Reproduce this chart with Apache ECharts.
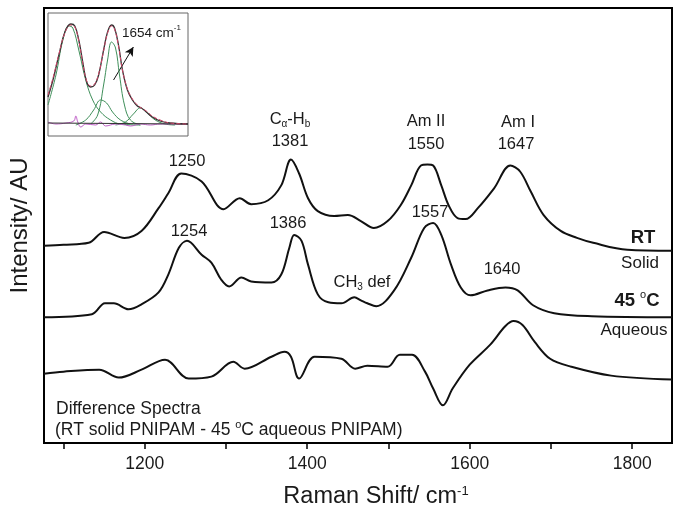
<!DOCTYPE html>
<html>
<head>
<meta charset="utf-8">
<script src="https://cdn.jsdelivr.net/npm/echarts@6/dist/echarts.min.js"></script>
<style>html,body{margin:0;padding:0;background:#fff}#c{width:679px;height:514px}</style>
</head>
<body>
<div id="c"></div>
<script>
// ---- main spectra (Raman shift cm-1, intensity in arbitrary units) ----
var rtShift = [1076,1100,1131,1150,1175,1196,1217,1229,1245,1270,1297,1317,1331,1352,1368,1380,1390,1401,1413,1433,1450,1466,1482,1499,1515,1528,1540,1548,1555,1565,1574,1585,1595,1610,1630,1650,1662,1675,1691,1712,1732,1752,1794,1849];
var rtInt   = [199,200,202,213,207,214,237,252,272,264,236,247,241,245,260,286,272,247,234,229,230,224,217,224,240,260,280,281,280,260,240,227,226,237,257,280,274,254,230,214,207,202,195,194];

var aqShift = [1076,1135,1151,1162,1180,1196,1217,1229,1242,1252,1270,1282,1294,1304,1319,1331,1356,1368,1378,1384,1393,1401,1413,1426,1442,1458,1466,1474,1485,1507,1528,1544,1555,1565,1577,1589,1601,1622,1644,1659,1678,1704,1750,1849];
var aqInt   = [127,130,141,141,135,140,152,170,197,204,190,182,165,158,167,163,162,170,197,210,204,180,150,142,141,147,144,141,138,154,187,217,222,210,180,157,149,154,157,154,139,131,128,127];

var dfShift = [1076,1100,1144,1168,1196,1225,1254,1282,1309,1323,1356,1372,1380,1390,1409,1442,1459,1474,1499,1514,1529,1545,1555,1567,1579,1600,1625,1644,1654,1665,1680,1699,1725,1774,1849];
var dfInt   = [70,72,74,66,74,84,65,67,82,75,87,92,87,65,87,85,75,78,77,89,89,72,55,38,55,79,99,118,123,119,102,85,77,68,64];

// ---- x axis ticks ----
var tickValues  = [1100,1200,1300,1400,1500,1600,1700,1800];
var labelValues = [1200,1400,1600,1800];

// ---- inset (band fit of Amide region), arbitrary units ----
var insetData   = [[0,39],[5,56],[11,81],[17,104],[23,112],[27,110],[31,96],[35,74],[39,54],[43,49],[47,51],[51,61],[56,86],[60,104],[64,111],[67,108],[71,91],[75,66],[80,46],[85,36],[90,30],[94,28],[99,24],[105,19],[113,15],[123,13],[141,12]];
var insetFit    = [[0,41],[5,58],[11,82],[17,103],[23,111],[27,109],[31,95],[35,73],[39,55],[43,50],[47,52],[51,62],[56,85],[60,103],[64,110],[67,107],[71,90],[75,66],[80,47],[85,37],[90,31],[94,28],[99,25],[105,20],[113,16],[123,13],[141,12]];
var insetBandA  = [[0,31],[8,61],[15,96],[21,110],[25,108],[31,86],[38,56],[45,36],[53,24],[63,16],[73,12],[93,11]];
var insetBandB  = [[43,12],[50,21],[56,51],[60,76],[64,94],[68,88],[72,61],[77,31],[83,16],[93,11]];
var insetBandC  = [[28,11],[38,16],[46,26],[53,36],[59,33],[65,24],[73,16],[83,12]];
var insetBandD  = [[68,11],[78,14],[86,22],[93,28],[99,24],[108,16],[118,12],[128,11]];
var insetResid  = [[0,14],[8,12],[18,13],[26,15],[28,20],[30,14],[33,9],[38,12],[48,11],[53,14],[58,10],[68,12],[78,11],[83,10],[93,12],[103,11],[113,12],[141,12]];
var insetBase   = [[0,13],[141,12]];

function zip(a,b){return a.map(function(v,i){return [v,b[i]];});}

var FONT = '"Liberation Sans", Arial, sans-serif';
var chart = echarts.init(document.getElementById('c'));

function txt(t, x, y, size, opts){
  opts = opts || {};
  return {
    type:'text', x:x, y:y, z:100,
    style:{
      text:t, fill:'#1a1a1a', fontFamily:FONT, fontSize:size,
      fontWeight: opts.bold ? 'bold' : 'normal',
      align: opts.align || 'center', verticalAlign:'middle',
      rich: opts.rich
    }
  };
}
function richSet(size){
  return {
    n:{fontSize:size, lineHeight:size+4, fontFamily:FONT, fill:'#1a1a1a'},
    b:{fontSize:size, lineHeight:size+4, fontFamily:FONT, fontWeight:'bold', fill:'#1a1a1a'},
    sub:{fontSize:Math.round(size*0.62), lineHeight:Math.round(size*0.62), verticalAlign:'bottom', fontFamily:FONT, fill:'#1a1a1a'},
    sup:{fontSize:Math.round(size*0.62), lineHeight:Math.round(size*0.62), verticalAlign:'top', fontFamily:FONT, fill:'#1a1a1a'}
  };
}

var lineStyle = {color:'#111', width:2};
var A = 16.5;

var option = {
  animation:false,
  backgroundColor:'#fff',
  grid:[
    {left:42, top:8, width:630, height:439, show:true, borderColor:'#000', borderWidth:2, backgroundColor:'transparent'},
    {left:48, top:13, width:140, height:123, show:true, borderColor:'#666', borderWidth:1, backgroundColor:'#fff', z:5}
  ],
  xAxis:[
    {type:'value', gridIndex:0, min:1076, max:1849,
     name:'Raman Shift/ cm{sup|-1}', nameLocation:'middle', nameGap:42,
     nameTextStyle:{fontFamily:FONT, fontSize:23.5, color:'#1a1a1a', padding:[0,0,0,36],
       rich:{sup:{fontSize:13, verticalAlign:'top', lineHeight:13, fontFamily:FONT, color:'#1a1a1a'}}},
     axisLine:{show:true, lineStyle:{color:'#000', width:2}},
     axisTick:{show:true, customValues:tickValues, length:6, inside:false, lineStyle:{color:'#000', width:1.5}},
     axisLabel:{show:true, customValues:labelValues, formatter:function(v){return String(v);}, fontFamily:FONT, fontSize:17.5, color:'#1a1a1a', margin:12},
     splitLine:{show:false}},
    {type:'value', gridIndex:1, min:0, max:141, show:false}
  ],
  yAxis:[
    {type:'value', gridIndex:0, min:0, max:439,
     name:'Intensity/ AU', nameLocation:'middle', nameGap:12, nameRotate:90,
     nameTextStyle:{fontFamily:FONT, fontSize:24, color:'#1a1a1a'},
     axisLine:{show:false}, axisTick:{show:false}, axisLabel:{show:false}, splitLine:{show:false}},
    {type:'value', gridIndex:1, min:0, max:123, show:false}
  ],
  series:[
    {name:'RT Solid', type:'line', xAxisIndex:0, yAxisIndex:0, data:zip(rtShift,rtInt), showSymbol:false, smooth:0.35, lineStyle:lineStyle, z:3},
    {name:'45 °C Aqueous', type:'line', xAxisIndex:0, yAxisIndex:0, data:zip(aqShift,aqInt), showSymbol:false, smooth:0.35, lineStyle:lineStyle, z:3},
    {name:'Difference', type:'line', xAxisIndex:0, yAxisIndex:0, data:zip(dfShift,dfInt), showSymbol:false, smooth:0.35, lineStyle:lineStyle, z:3},

    {name:'Band A', type:'line', xAxisIndex:1, yAxisIndex:1, data:insetBandA, showSymbol:false, smooth:0.4, lineStyle:{color:'#3f8f5a', width:1}, z:6},
    {name:'Band B', type:'line', xAxisIndex:1, yAxisIndex:1, data:insetBandB, showSymbol:false, smooth:0.4, lineStyle:{color:'#3f8f5a', width:1}, z:6},
    {name:'Band C', type:'line', xAxisIndex:1, yAxisIndex:1, data:insetBandC, showSymbol:false, smooth:0.4, lineStyle:{color:'#3f8f5a', width:1}, z:6},
    {name:'Band D', type:'line', xAxisIndex:1, yAxisIndex:1, data:insetBandD, showSymbol:false, smooth:0.4, lineStyle:{color:'#3f8f5a', width:1}, z:6},
    {name:'Residual', type:'line', xAxisIndex:1, yAxisIndex:1, data:insetResid, showSymbol:false, smooth:0.4, lineStyle:{color:'#c060c8', width:1}, z:6},
    {name:'Baseline', type:'line', xAxisIndex:1, yAxisIndex:1, data:insetBase, showSymbol:false, lineStyle:{color:'#333', width:1.2}, z:6},
    {name:'Inset data', type:'line', xAxisIndex:1, yAxisIndex:1, data:insetData, showSymbol:false, smooth:0.4, lineStyle:{color:'#333', width:1.3}, z:7,
     markLine:{silent:true, symbol:['none','arrow'], symbolSize:[7,9], label:{show:false},
       lineStyle:{color:'#111', width:1, type:'solid'},
       data:[[{coord:[66,56]},{coord:[86,89]}]]}},
    {name:'Inset fit', type:'line', xAxisIndex:1, yAxisIndex:1, data:insetFit, showSymbol:false, smooth:0.4, lineStyle:{color:'#d2486a', width:1, type:'dashed'}, z:8}
  ],
  graphic:[
    txt('{n|C}{sub|α}{n|-H}{sub|b}', 290, 119, A, {rich:richSet(A)}),
    txt('1381', 290, 141, A),
    txt('1250', 187, 161, A),
    txt('Am II', 426, 121, A),
    txt('1550', 426, 144, A),
    txt('Am I', 518, 122, A),
    txt('1647', 516, 144, A),
    txt('1254', 189, 231, A),
    txt('1386', 288, 223, A),
    txt('{n|CH}{sub|3}{n| def}', 362, 282, A, {rich:richSet(A)}),
    txt('1557', 430, 212, A),
    txt('1640', 502, 269, A),
    txt('{b|RT}', 643, 238, 18.5, {rich:richSet(18.5)}),
    txt('Solid', 640, 263, 17),
    txt('{b|45 }{sup|o}{b|C}', 637, 301, 18.5, {rich:richSet(18.5)}),
    txt('Aqueous', 634, 330, 17),
    txt('Difference Spectra', 56, 409, 17.5, {align:'left'}),
    txt('{n|(RT solid PNIPAM - 45 }{sup|o}{n|C aqueous PNIPAM)}', 55, 430, 17.5, {align:'left', rich:richSet(17.5)}),
    txt('{n|1654 cm}{sup|-1}', 122, 33, 13.5, {align:'left', rich:richSet(13.5)})
  ]
};
chart.setOption(option);
</script>
</body>
</html>
